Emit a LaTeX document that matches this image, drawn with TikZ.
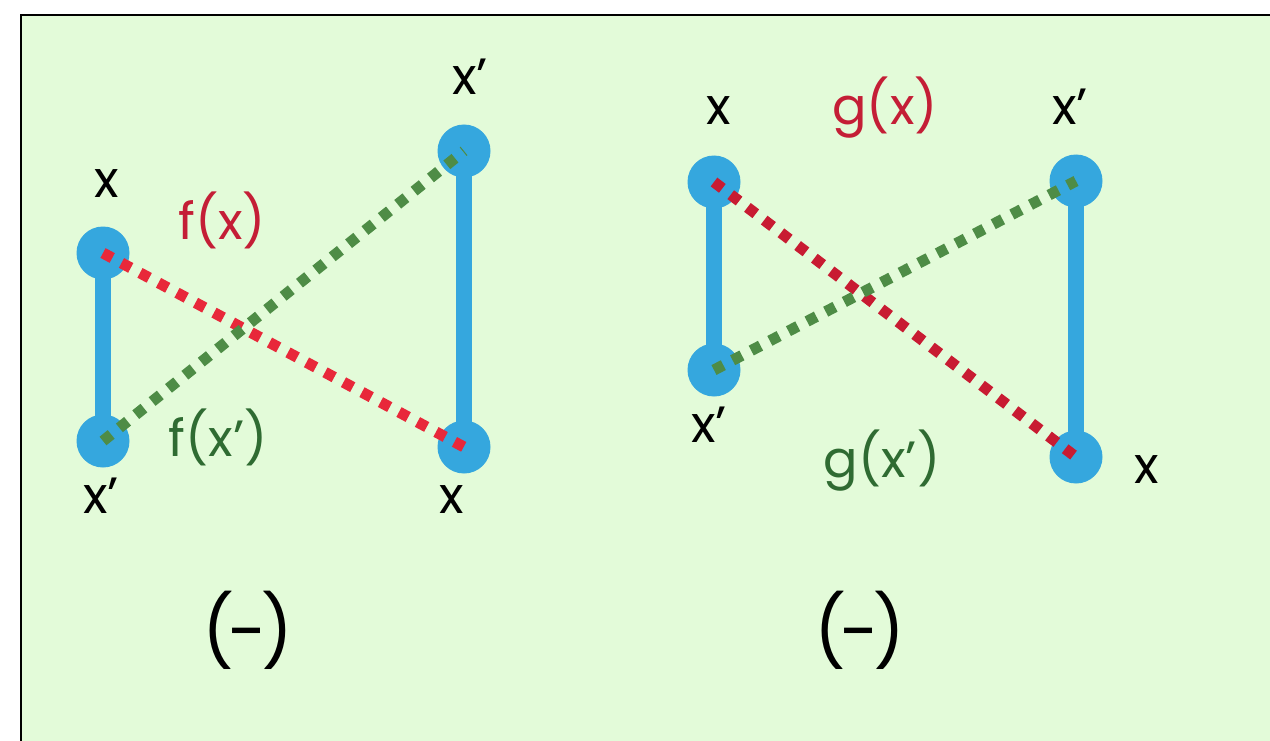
\documentclass[tikz,border=0pt]{standalone}
\usepackage{fontspec}
\setmainfont{Poppins}
\definecolor{bg}{HTML}{E3FBD9}
\definecolor{blu}{HTML}{35A7DE}
\definecolor{redA}{HTML}{E8283A}
\definecolor{redB}{HTML}{C81B32}
\definecolor{redT}{HTML}{C41E36}
\definecolor{grnD}{HTML}{4E8C46}
\definecolor{grnT}{HTML}{2F6B32}
\tikzset{
  ball/.style={circle,fill=blu,minimum size=53pt,inner sep=0pt},
  bar/.style={draw=blu,line width=16pt},
  dotline/.style={line width=11pt,dash pattern=on 10.5pt off 10.5pt},
  lab/.style={inner sep=0pt,anchor=base,font=\fontsize{51}{60}\selectfont},
  sign/.style={inner sep=0pt,anchor=center,font=\fontsize{70}{80}\selectfont}
}
\begin{document}
\begin{tikzpicture}[x=1pt,y=-1pt]
\useasboundingbox (0,0) rectangle (1270,741);
\clip (0,0) rectangle (1270,741);
\fill[bg] (21,15) rectangle (1290,760);
\draw[line width=2.5pt] (21,15) rectangle (1290,760);
% left panel
\node[ball] (a1) at (103,253) {};
\node[ball] (a2) at (103,441) {};
\node[ball] (a3) at (464,151) {};
\node[ball] (a4) at (464,447) {};
\draw[bar] (a1.center) -- (a2.center);
\draw[bar] (a3.center) -- (a4.center);
\draw[dotline,draw=redA] (a1.center) -- (a4.center);
\draw[dotline,draw=grnD] (a2.center) -- (a3.center);
\node[lab] (la1) at (107,197) {x};
\node[lab,text=redT] (lf1) at (222,239) {f(x)};
\node[lab] (la2) at (101,513) {x’};
\node[lab,text=grnT] (lf2) at (218,456) {f(x’)};
\node[lab] (la3) at (470,95) {x’};
\node[lab] (la4) at (452,513) {x};
\node[sign] (s1) at (248,630) {(\kern-6pt-\kern-6pt)};
% right panel
\node[ball] (b1) at (714,182) {};
\node[ball] (b2) at (714,370) {};
\node[ball] (b3) at (1076,181) {};
\node[ball] (b4) at (1076,457) {};
\draw[bar] (b1.center) -- (b2.center);
\draw[bar] (b3.center) -- (b4.center);
\draw[dotline,draw=redB] (b1.center) -- (b4.center);
\draw[dotline,draw=grnD] (b2.center) -- (b3.center);
\node[lab] (lb1) at (719,125) {x};
\node[lab,text=redT] (lg1) at (885,125) {g(x)};
\node[lab] (lb2) at (709,442) {x’};
\node[lab,text=grnT] (lg2) at (882,477) {g(x’)};
\node[lab] (lb3) at (1070,125) {x’};
\node[lab] (lb4) at (1147,483) {x};
\node[sign] (s2) at (860,630) {(\kern-6pt-\kern-6pt)};
\end{tikzpicture}
\end{document}
